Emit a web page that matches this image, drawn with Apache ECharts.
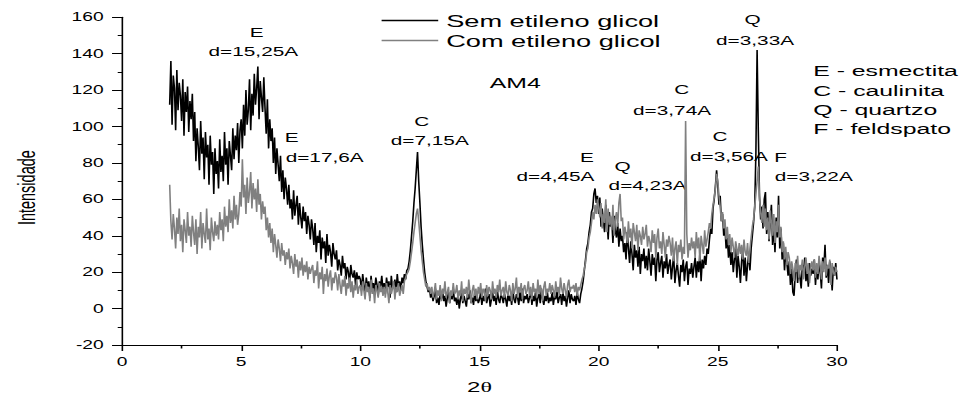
<!DOCTYPE html>
<html><head><meta charset="utf-8">
<script src="https://cdn.jsdelivr.net/npm/echarts@6/dist/echarts.min.js"></script>
<style>
html,body{margin:0;padding:0;background:#fff;overflow:hidden;}
#wrap{width:966px;height:394px;overflow:hidden;background:#fff;}
#chart{width:604px;height:394px;transform:scaleX(1.599338);transform-origin:0 0;}
</style></head><body><div id="wrap"><div id="chart"></div></div>
<script>
// ---- data ----
const twoThetaStart = 2.0;
const twoThetaStep = 0.05;
const xTickValues = [0, 5, 10, 15, 20, 25, 30];
const yTickValues = [-20, 0, 20, 40, 60, 80, 100, 120, 140, 160];
const seriesNames = ['Sem etileno glicol', 'Com etileno glicol'];

const semEtileno = [
 112,136,101,128,121,98,131,109,124,117,103,126,95,119,108,122,97,114,104,118,
 92,108,81,99,89,76,103,85,94,71,97,83,90,68,95,79,86,63,88,74,
 81,66,93,75,84,70,97,79,88,68,92,84,76,99,82,95,87,102,80,98,
 104,88,112,95,120,101,109,126,98,118,106,129,112,121,133,104,125,116,108,127,
 110,96,115,88,104,92,99,80,94,74,88,79,70,84,64,76,60,72,66,57,
 68,55,60,49,65,51,57,62,46,58,50,44,56,48,53,41,51,46,38,49,
 44,35,47,31,40,36,43,27,39,33,37,25,41,29,35,31,23,36,30,27,
 32,21,27,24,18,29,22,25,16,23,20,14,24,19,17,21,13,20,16,18,
 16,10,19,13,8,17,12,15,6,18,11,14,9,17,13,7,15,12,18,10,
 14,8,17,12,15,6,18,11,13,16,9,19,12,15,10,17,14,19,16,21,
 22,26,32,40,48,58,66,76,86,70,58,45,35,27,20,15,12,9,11,6,
 9,4,7,11,3,6,2,8,5,10,4,7,1,6,9,3,8,5,11,4,
 6,2,8,0,5,9,3,7,4,1,8,5,10,3,6,2,9,4,7,3,
 5,9,2,7,4,11,3,6,8,1,5,9,4,7,2,10,5,3,8,6,
 3,8,5,1,9,4,7,2,10,5,3,8,6,2,9,4,11,3,7,5,
 8,3,6,10,2,7,4,9,1,6,8,3,11,5,2,7,4,9,3,6,
 4,9,2,7,5,10,3,6,8,2,9,4,7,1,6,10,3,8,5,4,
 7,2,9,5,3,8,11,15,21,27,33,36,42,46,53,55,63,66,58,62,
 52,61,45,55,48,42,57,50,38,53,45,49,36,51,43,39,47,34,44,37,
 40,31,36,27,42,33,25,37,30,21,35,28,32,23,34,19,30,26,33,22,
 29,21,33,26,18,30,24,28,15,27,31,20,25,29,17,26,22,30,19,24,
 27,16,23,29,14,21,25,18,12,24,20,27,15,23,26,13,22,19,25,17,
 23,28,17,26,20,31,15,27,22,29,24,33,30,38,44,41,55,60,67,76,
 68,57,62,48,52,40,45,33,39,28,35,24,31,20,27,33,17,29,23,14,
 26,32,18,28,15,24,30,21,33,40,47,56,86,142,98,62,49,56,44,60,
 64,41,53,37,48,57,35,45,31,50,39,62,33,44,27,36,21,31,25,18,
 26,13,22,9,7,19,27,14,23,17,11,24,20,28,15,21,12,25,18,22,
 19,27,13,23,16,25,20,11,28,22,35,17,24,14,26,21,10,23,18,25,
 16
];

const comEtileno = [
 68,48,38,52,44,33,50,41,55,37,46,31,49,43,36,53,40,45,34,51,
 42,35,49,30,45,39,53,33,47,41,36,55,38,44,32,50,42,37,48,40,
 46,38,53,43,49,37,56,45,51,42,60,47,54,44,62,49,57,46,52,64,
 56,82,61,68,52,72,58,64,75,55,69,60,66,53,71,57,63,49,59,52,
 56,43,50,39,47,36,44,31,41,35,28,38,33,26,36,29,32,24,31,27,
 33,22,29,25,19,30,23,27,17,26,21,28,18,24,20,26,16,23,19,22,
 24,14,21,18,26,11,20,16,23,8,19,15,22,12,18,21,10,17,14,20,
 17,10,19,13,8,16,12,18,7,14,11,17,9,15,6,13,10,16,8,12,
 13,7,15,10,5,14,9,12,4,16,8,11,3,13,10,6,14,9,12,7,
 12,6,14,9,3,13,8,11,15,5,12,9,14,7,10,13,8,15,17,19,
 20,22,26,31,36,42,47,52,55,48,40,32,26,20,16,12,14,10,12,8,
 12,6,9,14,5,10,7,13,4,11,8,15,6,9,12,3,10,7,14,8,
 9,13,5,10,7,15,4,11,8,12,6,16,9,3,10,13,7,11,5,12,
 8,14,6,11,9,4,13,7,12,10,5,15,8,11,6,13,9,16,7,10,
 12,6,15,9,7,13,10,4,14,8,11,17,6,12,9,14,5,11,13,8,
 10,15,7,12,5,14,9,11,6,16,8,13,10,4,12,15,7,11,9,14,
 8,13,10,6,15,9,12,7,17,11,8,14,10,6,13,16,9,12,11,13,
 9,14,7,12,10,13,16,18,22,25,31,33,39,42,47,53,49,57,52,60,
 56,50,58,44,52,47,60,42,55,46,51,43,57,40,49,53,45,58,63,48,
 50,38,45,41,36,48,39,44,33,47,42,37,46,32,43,40,35,45,38,41,
 46,34,40,37,31,43,36,41,28,39,44,33,37,30,42,35,28,38,34,40,
 36,29,39,26,33,37,24,35,31,38,27,34,30,103,41,28,36,32,39,33,
 37,28,42,33,39,26,40,35,30,43,34,38,42,47,44,52,57,61,66,74,
 70,62,56,48,53,44,49,38,45,35,41,31,39,34,28,37,33,29,36,30,
 35,27,38,31,29,36,25,33,39,45,49,56,63,70,78,60,53,47,57,45,
 55,43,50,38,54,47,40,52,36,48,42,57,39,45,31,37,27,34,24,31,
 28,19,26,22,15,25,20,29,17,24,21,27,16,23,28,19,25,14,22,26,
 21,27,17,25,19,29,23,16,26,20,28,18,24,22,27,13,25,20,18,23,
 20
];

// peak annotation texts
const peakLabels = ['E', 'd=15,25A', 'E', 'd=17,6A', 'C', 'd=7,15A', 'E', 'd=4,45A', 'Q', 'd=4,23A',
                    'C', 'd=3,74A', 'C', 'd=3,56A', 'F', 'd=3,22A', 'Q', 'd=3,33A'];
const sampleTitle = 'AM4';
const keyLines = ['E - esmectita', 'C - caulinita', 'Q - quartzo', 'F - feldspato'];

// ---- layout (pixel positions in the unscaled drawing box) ----
const peakLabelPos = [
 [160.5, 32.8], [158.4, 51.7], [182.4, 137.5], [203.0, 157.5], [263.7, 121.7], [268.7, 140.5],
 [367.0, 157.5], [347.3, 177.0], [389.2, 166.7], [404.9, 185.5], [426.2, 90.0], [420.2, 110.5],
 [450.2, 136.7], [455.8, 156.7], [488.0, 157.5], [508.8, 177.0], [470.5, 20.0], [472.1, 40.5]
];

const FONT = '"Liberation Sans", Arial, Helvetica, sans-serif';
const twoTheta = semEtileno.map((_, i) => +(twoThetaStart + i * twoThetaStep).toFixed(2));

const graphics = peakLabels.map((t, i) => ({
  type: 'text', x: peakLabelPos[i][0], y: peakLabelPos[i][1], silent: true,
  style: { text: t, fontSize: 13, fontFamily: FONT, fill: '#000', align: 'center', verticalAlign: 'middle' }
}));
graphics.push({
  type: 'text', x: 322.2, y: 82.3, silent: true,
  style: { text: sampleTitle, fontSize: 15.5, fontFamily: FONT, fill: '#000', align: 'center', verticalAlign: 'middle' }
});
graphics.push({
  type: 'text', x: 508.5, y: 60.8, silent: true,
  style: { text: keyLines.join('\n'), fontSize: 15.5, lineHeight: 19.4, fontFamily: FONT, fill: '#000', align: 'left', verticalAlign: 'top' }
});

const chart = echarts.init(document.getElementById('chart'), null, { renderer: 'svg', width: 604, height: 394 });
chart.setOption({
  animation: false,
  backgroundColor: '#fff',
  grid: { left: 76.3, right: 80.7, top: 17.3, bottom: 49, containLabel: false, outerBoundsMode: 'none' },
  legend: {
    orient: 'vertical', left: 238.6, top: 12, padding: 0,
    icon: 'rect', itemWidth: 35.4, itemHeight: 1.4, itemGap: 3,
    textStyle: { fontSize: 17, fontFamily: FONT, color: '#000', lineHeight: 17 },
    data: seriesNames
  },
  xAxis: {
    type: 'value', min: xTickValues[0], max: xTickValues[xTickValues.length - 1], interval: 5,
    name: '{a|2}{b|θ}', nameLocation: 'middle', nameGap: 34,
    nameTextStyle: { rich: {
      a: { fontSize: 15, fontFamily: FONT, color: '#000' },
      b: { fontSize: 15, fontFamily: '"Liberation Serif", "Times New Roman", serif', color: '#000' }
    } },
    axisLine: { show: true, onZero: false, lineStyle: { color: '#000', width: 1 } },
    axisTick: { show: true, inside: false, length: 6, lineStyle: { color: '#000', width: 1 } },
    minorTick: { show: true, splitNumber: 2, length: 3.5, lineStyle: { color: '#000', width: 1 } },
    axisLabel: { show: true, fontSize: 12, fontFamily: FONT, color: '#000', margin: 11 },
    splitLine: { show: false }, minorSplitLine: { show: false }
  },
  yAxis: {
    type: 'value', min: yTickValues[0], max: yTickValues[yTickValues.length - 1], interval: 20,
    name: 'Intensidade', nameLocation: 'middle', nameGap: 52,
    nameTextStyle: { fontSize: 14.5, fontFamily: FONT, color: '#000', padding: [0, 13, 0, 0] },
    axisLine: { show: true, onZero: false, lineStyle: { color: '#000', width: 1 } },
    axisTick: { show: true, inside: false, length: 6.25, lineStyle: { color: '#000', width: 1 } },
    minorTick: { show: true, splitNumber: 2, length: 2.7, lineStyle: { color: '#000', width: 1 } },
    axisLabel: { show: true, fontSize: 12, fontFamily: FONT, color: '#000', margin: 11.5 },
    splitLine: { show: false }, minorSplitLine: { show: false }
  },
  series: [
    { name: seriesNames[0], type: 'line', data: twoTheta.map((x, i) => [x, semEtileno[i]]),
      symbol: 'none', showSymbol: false, silent: true, z: 2,
      lineStyle: { width: 1, color: '#000' }, itemStyle: { color: '#000' } },
    { name: seriesNames[1], type: 'line', data: twoTheta.map((x, i) => [x, comEtileno[i]]),
      symbol: 'none', showSymbol: false, silent: true, z: 3,
      lineStyle: { width: 1, color: '#808080' }, itemStyle: { color: '#808080' } }
  ],
  graphic: graphics
});
</script></body></html>
